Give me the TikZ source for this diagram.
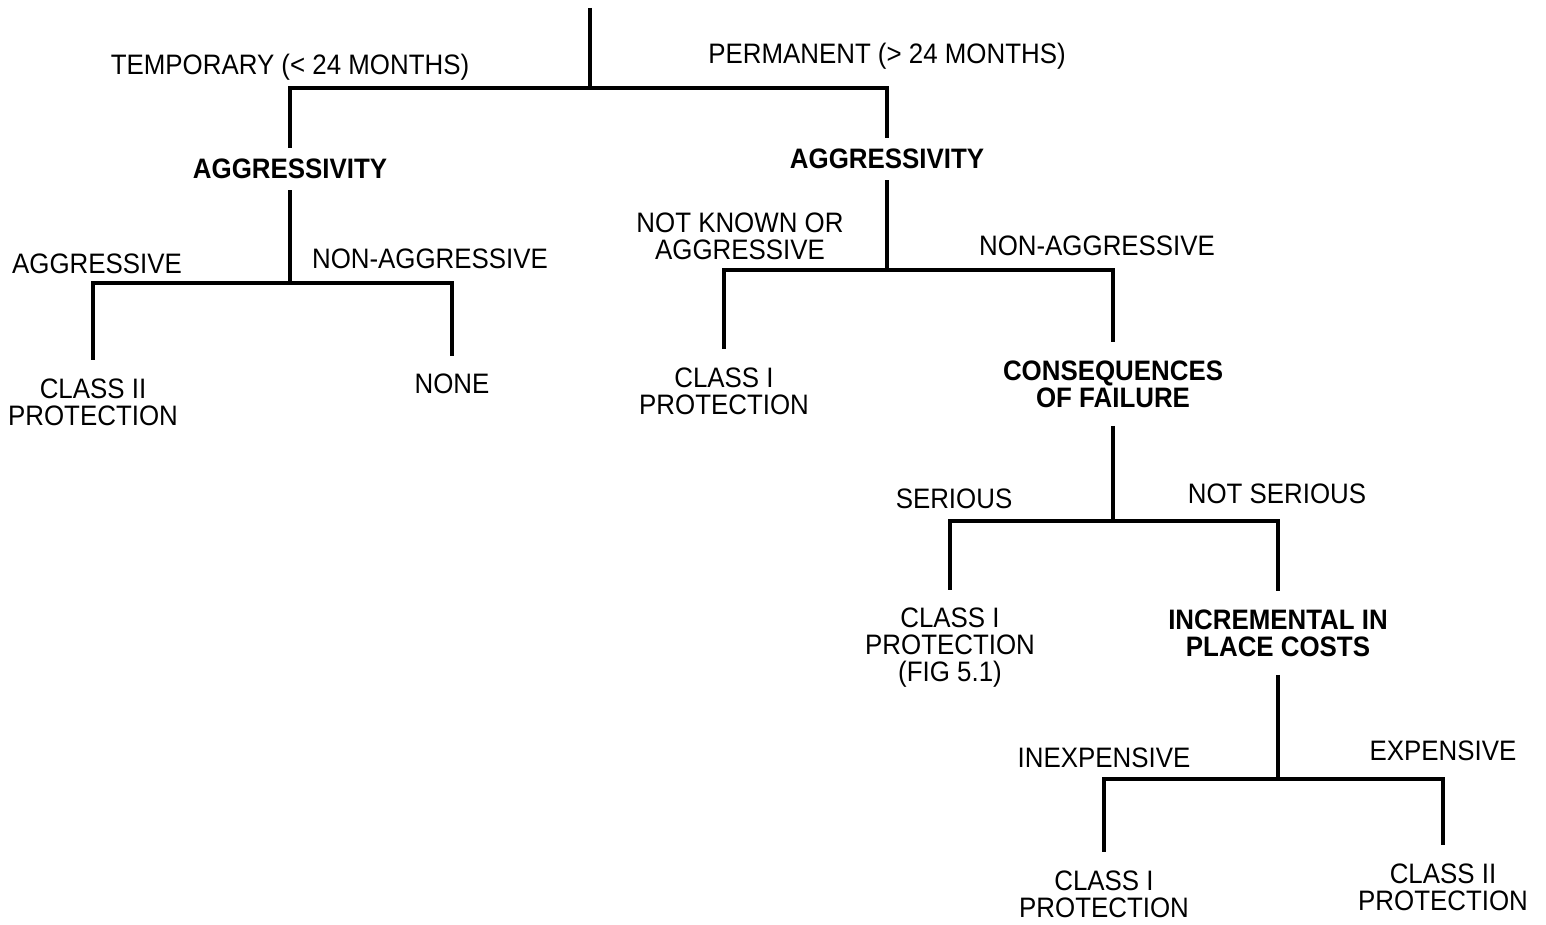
\documentclass[tikz,border=0pt]{standalone}
\usepackage{fontspec}
\setmainfont[FakeStretch=0.92]{Liberation Sans}

\begin{document}
\begin{tikzpicture}[
    x=0.01cm,y=-0.01cm,
    lbl/.style={align=center,inner sep=0pt,font=\fontsize{8}{7.7}\selectfont},
    decision/.style={lbl,font=\fontsize{8}{7.7}\selectfont\bfseries,inner ysep=5pt},
    leaf/.style={lbl,inner ysep=5pt},
    branch/.style={line width=0.9pt}
]
\useasboundingbox (0,0) rectangle (1546,925);

% Service life split
\coordinate (top) at (590,8);
\coordinate (j0) at (590,88);
\node[decision,inner ysep=3pt] (aggL) at (290,169) {AGGRESSIVITY};
\node[decision,inner ysep=3pt] (aggR) at (887,159) {AGGRESSIVITY};
\node[lbl] (lblTemp) at (290,67) {TEMPORARY (< 24 MONTHS)};
\node[lbl] (lblPerm) at (887,56) {PERMANENT (> 24 MONTHS)};
\draw[branch] (top) -- (j0);
\draw[branch] (j0) -| (aggL);
\draw[branch] (j0) -| (aggR);

% Temporary: aggressivity
\coordinate (j1) at (290,283);
\node[leaf] (classIIa) at (93,402) {CLASS II\\PROTECTION};
\node[leaf] (none) at (452,384) {NONE};
\node[lbl] (lblAggL) at (97,264) {AGGRESSIVE};
\node[lbl] (lblNonL) at (430,259) {NON-AGGRESSIVE};
\draw[branch] (aggL) -- (j1);
\draw[branch] (j1) -| (classIIa);
\draw[branch] (j1) -| (none);

% Permanent: aggressivity
\coordinate (j2) at (887,270);
\node[leaf] (classIa) at (724,391) {CLASS I\\PROTECTION};
\node[decision] (conseq) at (1113,384) {CONSEQUENCES\\OF FAILURE};
\node[lbl] (lblNotKnown) at (740,236) {NOT KNOWN OR\\AGGRESSIVE};
\node[lbl] (lblNonR) at (1097,246) {NON-AGGRESSIVE};
\draw[branch] (aggR) -- (j2);
\draw[branch] (j2) -| (classIa);
\draw[branch] (j2) -| (conseq);

% Consequences of failure
\coordinate (j3) at (1113,521);
\node[leaf] (classIb) at (950,648) {CLASS I\\PROTECTION\\(FIG 5.1)};
\node[decision] (incr) at (1278,633) {INCREMENTAL IN\\PLACE COSTS};
\node[lbl] (lblSer) at (954,499) {SERIOUS};
\node[lbl] (lblNotSer) at (1277,494) {NOT SERIOUS};
\draw[branch] (conseq) -- (j3);
\draw[branch] (j3) -| (classIb);
\draw[branch] (j3) -| (incr);

% Incremental in place costs
\coordinate (j4) at (1278,779);
\node[leaf] (classIc) at (1104,894) {CLASS I\\PROTECTION};
\node[leaf] (classIIb) at (1443,887) {CLASS II\\PROTECTION};
\node[lbl] (lblInexp) at (1104,758) {INEXPENSIVE};
\node[lbl] (lblExp) at (1443,751) {EXPENSIVE};
\draw[branch] (incr) -- (j4);
\draw[branch] (j4) -| (classIc);
\draw[branch] (j4) -| (classIIb);
\end{tikzpicture}
\end{document}
